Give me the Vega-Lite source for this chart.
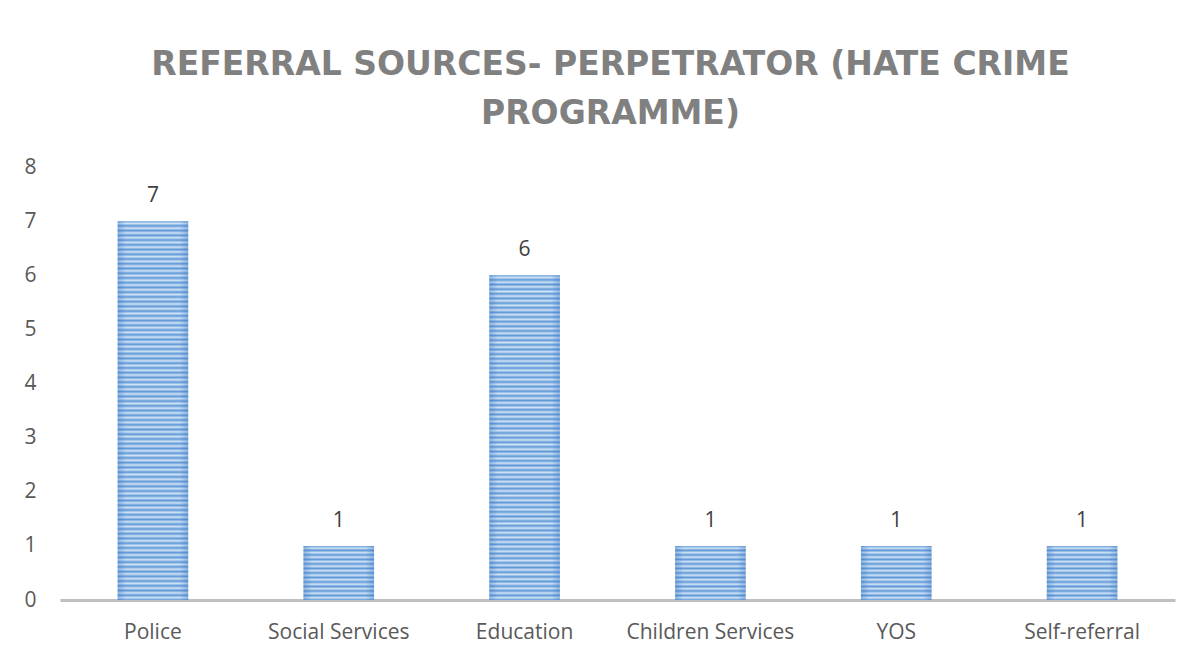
{
  "$schema": "https://vega.github.io/schema/vega-lite/v6.json",
  "autosize": {"type": "none"},
  "width": 1115,
  "height": 433,
  "padding": {"left": 60, "top": 167, "right": 24, "bottom": 54},
  "background": "white",
  "title": {
    "text": ["REFERRAL SOURCES- PERPETRATOR (HATE CRIME", "PROGRAMME)"],
    "font": "DejaVu Sans",
    "fontSize": 33,
    "fontWeight": "bold",
    "color": "#808080",
    "lineHeight": 49,
    "anchor": "middle",
    "baseline": "alphabetic",
    "offset": -1,
    "dx": -7
  },
  "data": {
    "values": [
      {"source": "Police", "count": 7},
      {"source": "Social Services", "count": 1},
      {"source": "Education", "count": 6},
      {"source": "Children Services", "count": 1},
      {"source": "YOS", "count": 1},
      {"source": "Self-referral", "count": 1}
    ]
  },
  "config": {"view": {"stroke": null}},
  "encoding": {
    "x": {
      "field": "source",
      "type": "nominal",
      "sort": null,
      "scale": {
        "domain": ["Police", "Social Services", "Education", "Children Services", "YOS", "Self-referral"],
        "paddingInner": 0.62,
        "paddingOuter": 0.31
      },
      "axis": {
        "title": null,
        "labelAngle": 0,
        "labelFont": "Open Sans",
        "labelFontSize": 21,
        "labelColor": "#595959",
        "labelPadding": 21,
        "ticks": false,
        "domainColor": "#bfbfbf",
        "domainWidth": 3
      }
    },
    "y": {
      "field": "count",
      "type": "quantitative",
      "scale": {"domain": [0, 8]},
      "axis": {
        "title": null,
        "values": [0, 1, 2, 3, 4, 5, 6, 7, 8],
        "labelOverlap": false,
        "grid": false,
        "domain": false,
        "ticks": false,
        "labelFont": "Open Sans",
        "labelFontSize": 21,
        "labelColor": "#595959",
        "labelPadding": 24
      }
    }
  },
  "layer": [
    {
      "transform": [{"filter": "datum.count == 7"}],
      "mark": {
        "type": "bar",
        "fill": {
          "gradient": "linear", "x1": 0, "y1": 0, "x2": 0, "y2": 1,
          "stops": [
            {"offset": 0, "color": "#5f98d7"}, {"offset": 0.00625, "color": "#d0e3f6"}, {"offset": 0.0125, "color": "#5f98d7"}, {"offset": 0.01875, "color": "#d0e3f6"}, {"offset": 0.025, "color": "#5f98d7"}, {"offset": 0.03125, "color": "#d0e3f6"}, {"offset": 0.0375, "color": "#5f98d7"}, {"offset": 0.04375, "color": "#d0e3f6"},
            {"offset": 0.05, "color": "#5f98d7"}, {"offset": 0.05625, "color": "#d0e3f6"}, {"offset": 0.0625, "color": "#5f98d7"}, {"offset": 0.06875, "color": "#d0e3f6"}, {"offset": 0.075, "color": "#5f98d7"}, {"offset": 0.08125, "color": "#d0e3f6"}, {"offset": 0.0875, "color": "#5f98d7"}, {"offset": 0.09375, "color": "#d0e3f6"},
            {"offset": 0.1, "color": "#5f98d7"}, {"offset": 0.10625, "color": "#d0e3f6"}, {"offset": 0.1125, "color": "#5f98d7"}, {"offset": 0.11875, "color": "#d0e3f6"}, {"offset": 0.125, "color": "#5f98d7"}, {"offset": 0.13125, "color": "#d0e3f6"}, {"offset": 0.1375, "color": "#5f98d7"}, {"offset": 0.14375, "color": "#d0e3f6"},
            {"offset": 0.15, "color": "#5f98d7"}, {"offset": 0.15625, "color": "#d0e3f6"}, {"offset": 0.1625, "color": "#5f98d7"}, {"offset": 0.16875, "color": "#d0e3f6"}, {"offset": 0.175, "color": "#5f98d7"}, {"offset": 0.18125, "color": "#d0e3f6"}, {"offset": 0.1875, "color": "#5f98d7"}, {"offset": 0.19375, "color": "#d0e3f6"},
            {"offset": 0.2, "color": "#5f98d7"}, {"offset": 0.20625, "color": "#d0e3f6"}, {"offset": 0.2125, "color": "#5f98d7"}, {"offset": 0.21875, "color": "#d0e3f6"}, {"offset": 0.225, "color": "#5f98d7"}, {"offset": 0.23125, "color": "#d0e3f6"}, {"offset": 0.2375, "color": "#5f98d7"}, {"offset": 0.24375, "color": "#d0e3f6"},
            {"offset": 0.25, "color": "#5f98d7"}, {"offset": 0.25625, "color": "#d0e3f6"}, {"offset": 0.2625, "color": "#5f98d7"}, {"offset": 0.26875, "color": "#d0e3f6"}, {"offset": 0.275, "color": "#5f98d7"}, {"offset": 0.28125, "color": "#d0e3f6"}, {"offset": 0.2875, "color": "#5f98d7"}, {"offset": 0.29375, "color": "#d0e3f6"},
            {"offset": 0.3, "color": "#5f98d7"}, {"offset": 0.30625, "color": "#d0e3f6"}, {"offset": 0.3125, "color": "#5f98d7"}, {"offset": 0.31875, "color": "#d0e3f6"}, {"offset": 0.325, "color": "#5f98d7"}, {"offset": 0.33125, "color": "#d0e3f6"}, {"offset": 0.3375, "color": "#5f98d7"}, {"offset": 0.34375, "color": "#d0e3f6"},
            {"offset": 0.35, "color": "#5f98d7"}, {"offset": 0.35625, "color": "#d0e3f6"}, {"offset": 0.3625, "color": "#5f98d7"}, {"offset": 0.36875, "color": "#d0e3f6"}, {"offset": 0.375, "color": "#5f98d7"}, {"offset": 0.38125, "color": "#d0e3f6"}, {"offset": 0.3875, "color": "#5f98d7"}, {"offset": 0.39375, "color": "#d0e3f6"},
            {"offset": 0.4, "color": "#5f98d7"}, {"offset": 0.40625, "color": "#d0e3f6"}, {"offset": 0.4125, "color": "#5f98d7"}, {"offset": 0.41875, "color": "#d0e3f6"}, {"offset": 0.425, "color": "#5f98d7"}, {"offset": 0.43125, "color": "#d0e3f6"}, {"offset": 0.4375, "color": "#5f98d7"}, {"offset": 0.44375, "color": "#d0e3f6"},
            {"offset": 0.45, "color": "#5f98d7"}, {"offset": 0.45625, "color": "#d0e3f6"}, {"offset": 0.4625, "color": "#5f98d7"}, {"offset": 0.46875, "color": "#d0e3f6"}, {"offset": 0.475, "color": "#5f98d7"}, {"offset": 0.48125, "color": "#d0e3f6"}, {"offset": 0.4875, "color": "#5f98d7"}, {"offset": 0.49375, "color": "#d0e3f6"},
            {"offset": 0.5, "color": "#5f98d7"}, {"offset": 0.50625, "color": "#d0e3f6"}, {"offset": 0.5125, "color": "#5f98d7"}, {"offset": 0.51875, "color": "#d0e3f6"}, {"offset": 0.525, "color": "#5f98d7"}, {"offset": 0.53125, "color": "#d0e3f6"}, {"offset": 0.5375, "color": "#5f98d7"}, {"offset": 0.54375, "color": "#d0e3f6"},
            {"offset": 0.55, "color": "#5f98d7"}, {"offset": 0.55625, "color": "#d0e3f6"}, {"offset": 0.5625, "color": "#5f98d7"}, {"offset": 0.56875, "color": "#d0e3f6"}, {"offset": 0.575, "color": "#5f98d7"}, {"offset": 0.58125, "color": "#d0e3f6"}, {"offset": 0.5875, "color": "#5f98d7"}, {"offset": 0.59375, "color": "#d0e3f6"},
            {"offset": 0.6, "color": "#5f98d7"}, {"offset": 0.60625, "color": "#d0e3f6"}, {"offset": 0.6125, "color": "#5f98d7"}, {"offset": 0.61875, "color": "#d0e3f6"}, {"offset": 0.625, "color": "#5f98d7"}, {"offset": 0.63125, "color": "#d0e3f6"}, {"offset": 0.6375, "color": "#5f98d7"}, {"offset": 0.64375, "color": "#d0e3f6"},
            {"offset": 0.65, "color": "#5f98d7"}, {"offset": 0.65625, "color": "#d0e3f6"}, {"offset": 0.6625, "color": "#5f98d7"}, {"offset": 0.66875, "color": "#d0e3f6"}, {"offset": 0.675, "color": "#5f98d7"}, {"offset": 0.68125, "color": "#d0e3f6"}, {"offset": 0.6875, "color": "#5f98d7"}, {"offset": 0.69375, "color": "#d0e3f6"},
            {"offset": 0.7, "color": "#5f98d7"}, {"offset": 0.70625, "color": "#d0e3f6"}, {"offset": 0.7125, "color": "#5f98d7"}, {"offset": 0.71875, "color": "#d0e3f6"}, {"offset": 0.725, "color": "#5f98d7"}, {"offset": 0.73125, "color": "#d0e3f6"}, {"offset": 0.7375, "color": "#5f98d7"}, {"offset": 0.74375, "color": "#d0e3f6"},
            {"offset": 0.75, "color": "#5f98d7"}, {"offset": 0.75625, "color": "#d0e3f6"}, {"offset": 0.7625, "color": "#5f98d7"}, {"offset": 0.76875, "color": "#d0e3f6"}, {"offset": 0.775, "color": "#5f98d7"}, {"offset": 0.78125, "color": "#d0e3f6"}, {"offset": 0.7875, "color": "#5f98d7"}, {"offset": 0.79375, "color": "#d0e3f6"},
            {"offset": 0.8, "color": "#5f98d7"}, {"offset": 0.80625, "color": "#d0e3f6"}, {"offset": 0.8125, "color": "#5f98d7"}, {"offset": 0.81875, "color": "#d0e3f6"}, {"offset": 0.825, "color": "#5f98d7"}, {"offset": 0.83125, "color": "#d0e3f6"}, {"offset": 0.8375, "color": "#5f98d7"}, {"offset": 0.84375, "color": "#d0e3f6"},
            {"offset": 0.85, "color": "#5f98d7"}, {"offset": 0.85625, "color": "#d0e3f6"}, {"offset": 0.8625, "color": "#5f98d7"}, {"offset": 0.86875, "color": "#d0e3f6"}, {"offset": 0.875, "color": "#5f98d7"}, {"offset": 0.88125, "color": "#d0e3f6"}, {"offset": 0.8875, "color": "#5f98d7"}, {"offset": 0.89375, "color": "#d0e3f6"},
            {"offset": 0.9, "color": "#5f98d7"}, {"offset": 0.90625, "color": "#d0e3f6"}, {"offset": 0.9125, "color": "#5f98d7"}, {"offset": 0.91875, "color": "#d0e3f6"}, {"offset": 0.925, "color": "#5f98d7"}, {"offset": 0.93125, "color": "#d0e3f6"}, {"offset": 0.9375, "color": "#5f98d7"}, {"offset": 0.94375, "color": "#d0e3f6"},
            {"offset": 0.95, "color": "#5f98d7"}, {"offset": 0.95625, "color": "#d0e3f6"}, {"offset": 0.9625, "color": "#5f98d7"}, {"offset": 0.96875, "color": "#d0e3f6"}, {"offset": 0.975, "color": "#5f98d7"}, {"offset": 0.98125, "color": "#d0e3f6"}, {"offset": 0.9875, "color": "#5f98d7"}, {"offset": 0.99375, "color": "#d0e3f6"},
            {"offset": 1, "color": "#5f98d7"}
          ]
        }
      }
    },
    {
      "transform": [{"filter": "datum.count == 6"}],
      "mark": {
        "type": "bar",
        "fill": {
          "gradient": "linear", "x1": 0, "y1": 0, "x2": 0, "y2": 1,
          "stops": [
            {"offset": 0, "color": "#5f98d7"}, {"offset": 0.00714, "color": "#d0e3f6"}, {"offset": 0.01429, "color": "#5f98d7"}, {"offset": 0.02143, "color": "#d0e3f6"}, {"offset": 0.02857, "color": "#5f98d7"}, {"offset": 0.03571, "color": "#d0e3f6"}, {"offset": 0.04286, "color": "#5f98d7"},
            {"offset": 0.05, "color": "#d0e3f6"}, {"offset": 0.05714, "color": "#5f98d7"}, {"offset": 0.06429, "color": "#d0e3f6"}, {"offset": 0.07143, "color": "#5f98d7"}, {"offset": 0.07857, "color": "#d0e3f6"}, {"offset": 0.08571, "color": "#5f98d7"}, {"offset": 0.09286, "color": "#d0e3f6"},
            {"offset": 0.1, "color": "#5f98d7"}, {"offset": 0.10714, "color": "#d0e3f6"}, {"offset": 0.11429, "color": "#5f98d7"}, {"offset": 0.12143, "color": "#d0e3f6"}, {"offset": 0.12857, "color": "#5f98d7"}, {"offset": 0.13571, "color": "#d0e3f6"}, {"offset": 0.14286, "color": "#5f98d7"},
            {"offset": 0.15, "color": "#d0e3f6"}, {"offset": 0.15714, "color": "#5f98d7"}, {"offset": 0.16429, "color": "#d0e3f6"}, {"offset": 0.17143, "color": "#5f98d7"}, {"offset": 0.17857, "color": "#d0e3f6"}, {"offset": 0.18571, "color": "#5f98d7"}, {"offset": 0.19286, "color": "#d0e3f6"},
            {"offset": 0.2, "color": "#5f98d7"}, {"offset": 0.20714, "color": "#d0e3f6"}, {"offset": 0.21429, "color": "#5f98d7"}, {"offset": 0.22143, "color": "#d0e3f6"}, {"offset": 0.22857, "color": "#5f98d7"}, {"offset": 0.23571, "color": "#d0e3f6"}, {"offset": 0.24286, "color": "#5f98d7"},
            {"offset": 0.25, "color": "#d0e3f6"}, {"offset": 0.25714, "color": "#5f98d7"}, {"offset": 0.26429, "color": "#d0e3f6"}, {"offset": 0.27143, "color": "#5f98d7"}, {"offset": 0.27857, "color": "#d0e3f6"}, {"offset": 0.28571, "color": "#5f98d7"}, {"offset": 0.29286, "color": "#d0e3f6"},
            {"offset": 0.3, "color": "#5f98d7"}, {"offset": 0.30714, "color": "#d0e3f6"}, {"offset": 0.31429, "color": "#5f98d7"}, {"offset": 0.32143, "color": "#d0e3f6"}, {"offset": 0.32857, "color": "#5f98d7"}, {"offset": 0.33571, "color": "#d0e3f6"}, {"offset": 0.34286, "color": "#5f98d7"},
            {"offset": 0.35, "color": "#d0e3f6"}, {"offset": 0.35714, "color": "#5f98d7"}, {"offset": 0.36429, "color": "#d0e3f6"}, {"offset": 0.37143, "color": "#5f98d7"}, {"offset": 0.37857, "color": "#d0e3f6"}, {"offset": 0.38571, "color": "#5f98d7"}, {"offset": 0.39286, "color": "#d0e3f6"},
            {"offset": 0.4, "color": "#5f98d7"}, {"offset": 0.40714, "color": "#d0e3f6"}, {"offset": 0.41429, "color": "#5f98d7"}, {"offset": 0.42143, "color": "#d0e3f6"}, {"offset": 0.42857, "color": "#5f98d7"}, {"offset": 0.43571, "color": "#d0e3f6"}, {"offset": 0.44286, "color": "#5f98d7"},
            {"offset": 0.45, "color": "#d0e3f6"}, {"offset": 0.45714, "color": "#5f98d7"}, {"offset": 0.46429, "color": "#d0e3f6"}, {"offset": 0.47143, "color": "#5f98d7"}, {"offset": 0.47857, "color": "#d0e3f6"}, {"offset": 0.48571, "color": "#5f98d7"}, {"offset": 0.49286, "color": "#d0e3f6"},
            {"offset": 0.5, "color": "#5f98d7"}, {"offset": 0.50714, "color": "#d0e3f6"}, {"offset": 0.51429, "color": "#5f98d7"}, {"offset": 0.52143, "color": "#d0e3f6"}, {"offset": 0.52857, "color": "#5f98d7"}, {"offset": 0.53571, "color": "#d0e3f6"}, {"offset": 0.54286, "color": "#5f98d7"},
            {"offset": 0.55, "color": "#d0e3f6"}, {"offset": 0.55714, "color": "#5f98d7"}, {"offset": 0.56429, "color": "#d0e3f6"}, {"offset": 0.57143, "color": "#5f98d7"}, {"offset": 0.57857, "color": "#d0e3f6"}, {"offset": 0.58571, "color": "#5f98d7"}, {"offset": 0.59286, "color": "#d0e3f6"},
            {"offset": 0.6, "color": "#5f98d7"}, {"offset": 0.60714, "color": "#d0e3f6"}, {"offset": 0.61429, "color": "#5f98d7"}, {"offset": 0.62143, "color": "#d0e3f6"}, {"offset": 0.62857, "color": "#5f98d7"}, {"offset": 0.63571, "color": "#d0e3f6"}, {"offset": 0.64286, "color": "#5f98d7"},
            {"offset": 0.65, "color": "#d0e3f6"}, {"offset": 0.65714, "color": "#5f98d7"}, {"offset": 0.66429, "color": "#d0e3f6"}, {"offset": 0.67143, "color": "#5f98d7"}, {"offset": 0.67857, "color": "#d0e3f6"}, {"offset": 0.68571, "color": "#5f98d7"}, {"offset": 0.69286, "color": "#d0e3f6"},
            {"offset": 0.7, "color": "#5f98d7"}, {"offset": 0.70714, "color": "#d0e3f6"}, {"offset": 0.71429, "color": "#5f98d7"}, {"offset": 0.72143, "color": "#d0e3f6"}, {"offset": 0.72857, "color": "#5f98d7"}, {"offset": 0.73571, "color": "#d0e3f6"}, {"offset": 0.74286, "color": "#5f98d7"},
            {"offset": 0.75, "color": "#d0e3f6"}, {"offset": 0.75714, "color": "#5f98d7"}, {"offset": 0.76429, "color": "#d0e3f6"}, {"offset": 0.77143, "color": "#5f98d7"}, {"offset": 0.77857, "color": "#d0e3f6"}, {"offset": 0.78571, "color": "#5f98d7"}, {"offset": 0.79286, "color": "#d0e3f6"},
            {"offset": 0.8, "color": "#5f98d7"}, {"offset": 0.80714, "color": "#d0e3f6"}, {"offset": 0.81429, "color": "#5f98d7"}, {"offset": 0.82143, "color": "#d0e3f6"}, {"offset": 0.82857, "color": "#5f98d7"}, {"offset": 0.83571, "color": "#d0e3f6"}, {"offset": 0.84286, "color": "#5f98d7"},
            {"offset": 0.85, "color": "#d0e3f6"}, {"offset": 0.85714, "color": "#5f98d7"}, {"offset": 0.86429, "color": "#d0e3f6"}, {"offset": 0.87143, "color": "#5f98d7"}, {"offset": 0.87857, "color": "#d0e3f6"}, {"offset": 0.88571, "color": "#5f98d7"}, {"offset": 0.89286, "color": "#d0e3f6"},
            {"offset": 0.9, "color": "#5f98d7"}, {"offset": 0.90714, "color": "#d0e3f6"}, {"offset": 0.91429, "color": "#5f98d7"}, {"offset": 0.92143, "color": "#d0e3f6"}, {"offset": 0.92857, "color": "#5f98d7"}, {"offset": 0.93571, "color": "#d0e3f6"}, {"offset": 0.94286, "color": "#5f98d7"},
            {"offset": 0.95, "color": "#d0e3f6"}, {"offset": 0.95714, "color": "#5f98d7"}, {"offset": 0.96429, "color": "#d0e3f6"}, {"offset": 0.97143, "color": "#5f98d7"}, {"offset": 0.97857, "color": "#d0e3f6"}, {"offset": 0.98571, "color": "#5f98d7"}, {"offset": 0.99286, "color": "#d0e3f6"},
            {"offset": 1, "color": "#5f98d7"}
          ]
        }
      }
    },
    {
      "transform": [{"filter": "datum.count == 1"}],
      "mark": {
        "type": "bar",
        "fill": {
          "gradient": "linear", "x1": 0, "y1": 0, "x2": 0, "y2": 1,
          "stops": [
            {"offset": 0, "color": "#5f98d7"}, {"offset": 0.04167, "color": "#d0e3f6"}, {"offset": 0.08333, "color": "#5f98d7"}, {"offset": 0.125, "color": "#d0e3f6"},
            {"offset": 0.16667, "color": "#5f98d7"}, {"offset": 0.20833, "color": "#d0e3f6"}, {"offset": 0.25, "color": "#5f98d7"}, {"offset": 0.29167, "color": "#d0e3f6"},
            {"offset": 0.33333, "color": "#5f98d7"}, {"offset": 0.375, "color": "#d0e3f6"}, {"offset": 0.41667, "color": "#5f98d7"}, {"offset": 0.45833, "color": "#d0e3f6"},
            {"offset": 0.5, "color": "#5f98d7"}, {"offset": 0.54167, "color": "#d0e3f6"}, {"offset": 0.58333, "color": "#5f98d7"}, {"offset": 0.625, "color": "#d0e3f6"},
            {"offset": 0.66667, "color": "#5f98d7"}, {"offset": 0.70833, "color": "#d0e3f6"}, {"offset": 0.75, "color": "#5f98d7"}, {"offset": 0.79167, "color": "#d0e3f6"},
            {"offset": 0.83333, "color": "#5f98d7"}, {"offset": 0.875, "color": "#d0e3f6"}, {"offset": 0.91667, "color": "#5f98d7"}, {"offset": 0.95833, "color": "#d0e3f6"},
            {"offset": 1, "color": "#5f98d7"}
          ]
        }
      }
    },
    {
      "mark": {
        "type": "bar",
        "fill": {
          "gradient": "linear", "x1": 0, "y1": 0, "x2": 1, "y2": 0,
          "stops": [
            {"offset": 0, "color": "rgba(50,110,190,0.35)"},
            {"offset": 0.12, "color": "rgba(50,110,190,0)"},
            {"offset": 0.88, "color": "rgba(50,110,190,0)"},
            {"offset": 1, "color": "rgba(50,110,190,0.35)"}
          ]
        }
      }
    },
    {
      "mark": {"type": "text", "dy": -25, "font": "Open Sans", "fontSize": 21, "color": "#404040"},
      "encoding": {"text": {"field": "count", "type": "quantitative"}}
    }
  ]
}
